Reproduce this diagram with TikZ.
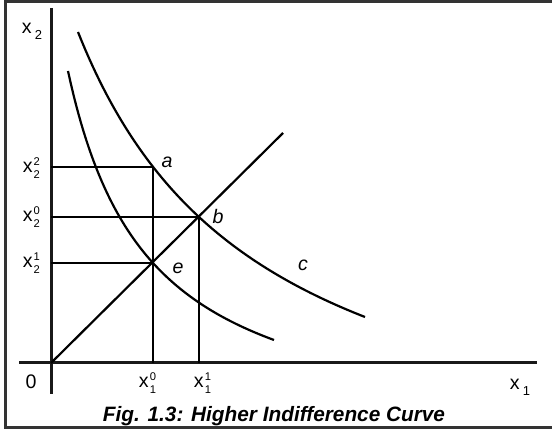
\documentclass[tikz,border=0pt]{standalone}
\usepackage{fontspec}
\setmainfont{Liberation Sans}
\usetikzlibrary{positioning}
\tikzset{every picture/.style={line width=0.75pt}}
\newcommand{\smallfig}{\fontsize{5.6}{6.5}\selectfont}
\newcommand{\xvar}[2]{x\kern0.6pt\raisebox{-2.7pt}{\vbox{\smallfig\baselineskip=6.6pt\lineskiplimit=-10pt\hbox{#2}\hbox{#1}}}}
\newcommand{\xaxis}[1]{x\kern1.6pt\raisebox{-0.6ex}{\fontsize{6.5}{7}\selectfont #1}}

\begin{document}
\begin{tikzpicture}[x=0.5pt, y=-0.5pt, font=\fontsize{9.8}{11}\selectfont,
  axis/.style={line width=1.5pt, black!90},
  curve/.style={line width=1.1pt},
  guide/.style={line width=0.8pt},
  pointlabel/.style={font=\fontsize{9.8}{11}\selectfont\itshape, inner sep=0pt}]
\useasboundingbox (0,0) rectangle (552,432);
\draw[line width=1.5pt, black!80] (553,2) -- (5,2) -- (5,428) -- (553,428);

\coordinate (O) at (51,363);
\coordinate (a) at (153,167);
\coordinate (b) at (199,217);
\coordinate (e) at (153,263);
\coordinate (ray) at (283,133);

\draw[axis] (51,8) -- (51,394);
\draw[axis] (19,363) -- (537,363);

\draw[guide] (a -| O) -- (a) -- (a |- O);
\draw[guide] (b -| O) -- (b) -- (b |- O);
\draw[guide, line width=1pt] (e -| O) -- (e);
\draw[curve] (O) -- (ray);

\draw[curve] plot[domain=68:274, samples=80] (\x, {445.5 - 302.6/((\x+12.8)/100)});
\draw[curve] plot[domain=78:365, samples=80] (\x, {502.3 - 877.58/((\x+108.6)/100)});

\node[pointlabel] (la) at (167,162) {a};
\node[pointlabel] (lb) at (218,216) {b};
\node[pointlabel] (le) at (178,268) {e};
\node[pointlabel] (lc) at (303,265) {c};

\node[inner sep=0pt] (xtwo) at (32,31) {\xaxis{2}};
\node[inner sep=0pt] (xone) at (520,387) {\xaxis{1}};
\node[inner sep=0pt] (zero) at (31,382) {0};

\node[inner sep=0pt, anchor=base west] (x22) at (22,173) {\xvar{2}{2}};
\node[inner sep=0pt, anchor=base west] (x20) at (22,222) {\xvar{2}{0}};
\node[inner sep=0pt, anchor=base west] (x21) at (22,268) {\xvar{2}{1}};
\node[inner sep=0pt, anchor=base west] (x10) at (138,388) {\xvar{1}{0}};
\node[inner sep=0pt, anchor=base west] (x11) at (193,388) {\xvar{1}{1}};

\node[anchor=base, inner sep=0pt, font=\fontsize{10.4}{12}\selectfont\bfseries\itshape] (caption) at (274,422) {Fig. 1.3: Higher Indifference Curve};
\end{tikzpicture}
\end{document}
